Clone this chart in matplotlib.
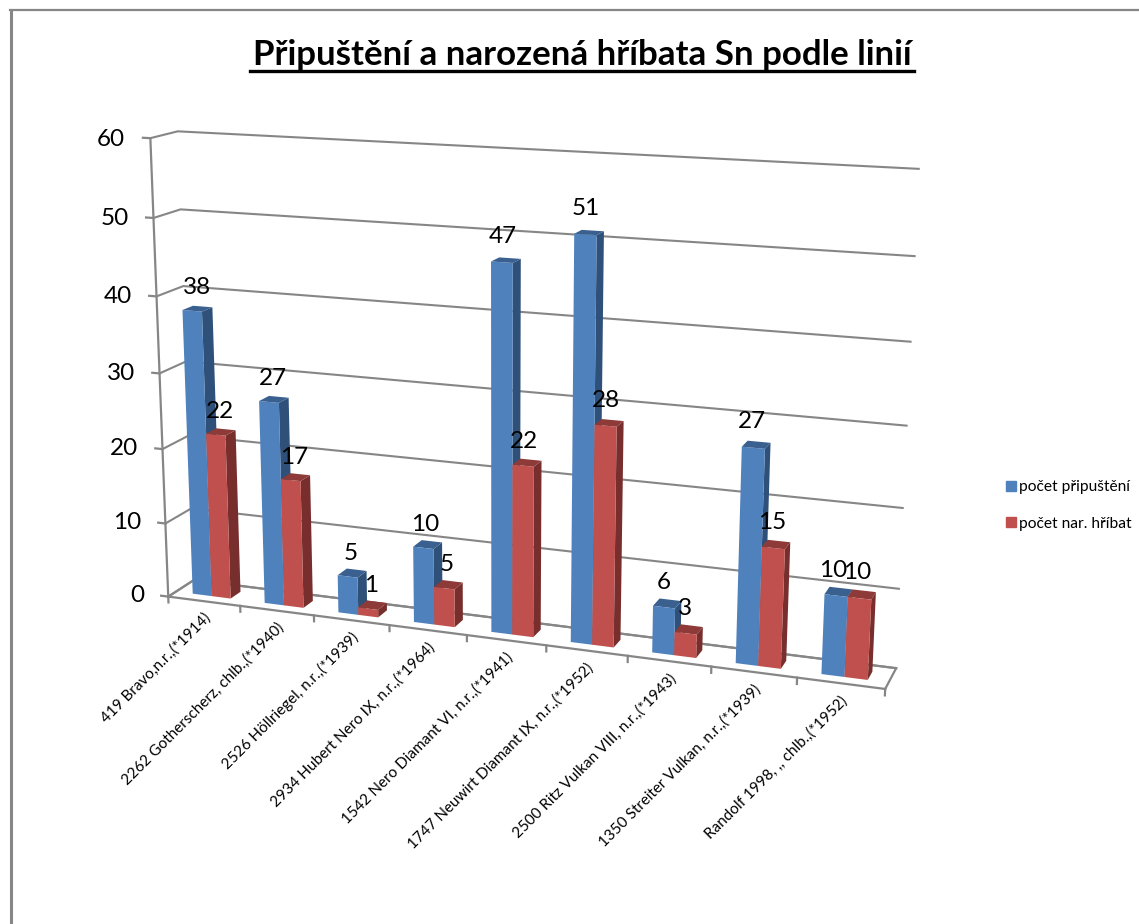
import matplotlib
matplotlib.use('Agg')
import matplotlib.pyplot as plt
import numpy as np
from matplotlib.lines import Line2D
from matplotlib.patches import Patch
from mpl_toolkits.mplot3d import proj3d

plt.rcParams['font.family'] = ['Lato', 'DejaVu Sans']

title = 'Připuštění a narozená hříbata Sn podle linií'
horses = ['419 Bravo,n.r.,(*1914)', '2262 Gotherscherz, chlb.,(*1940)',
          '2526 Höllriegel, n.r.,(*1939)', '2934 Hubert Nero IX, n.r.,(*1964)',
          '1542 Nero Diamant VI, n.r.,(*1941)', '1747 Neuwirt Diamant IX, n.r.,(*1952)',
          '2500 Ritz Vulkan VIII, n.r.,(*1943)', '1350 Streiter Vulkan, n.r.,(*1939)',
          'Randolf 1998, ,, chlb.,(*1952)']
pripusteni = [38, 27, 5, 10, 47, 51, 6, 27, 10]
hribata = [22, 17, 1, 5, 22, 28, 3, 15, 10]
series_names = ['počet připuštění', 'počet nar. hříbat']
z_ticks = [0, 10, 20, 30, 40, 50, 60]

W, H = 1139, 924
GREY = '#868686'
HIDDEN = (0, 0, 0, 0)
# front, top, side colours for each series
BLUE = ('#4F81BD', '#3A6090', '#2F5078')
RED = ('#C0504D', '#8E3A38', '#772E2C')

fig = plt.figure(figsize=(W/100, H/100), dpi=100)

# perspective fitted to the reference
cx, cy, s = 504.49, 513.57, 891.28
ax = fig.add_axes([(cx-s/2)/W, (cy-s/2)/H, s/W, s/H], projection='3d')
ax.patch.set_alpha(0)
ax.set_xlim(0, 9, view_margin=0)
ax.set_ylim(0, 1, view_margin=0)
ax.set_zlim(0, 60, view_margin=0)
ax.view_init(elev=14.2108, azim=-70.228, roll=-0.1147)
ax.set_proj_type('persp', focal_length=0.45613)
ax.set_box_aspect((1, 0.07528, 0.63781))

for axis in (ax.xaxis, ax.yaxis, ax.zaxis):
    axis.set_pane_color((1, 1, 1, 0))
    axis.pane.set_edgecolor('none')
    axis.line.set_color('none')
ax.xaxis._axinfo['grid'].update(linewidth=0)
ax.yaxis._axinfo['grid'].update(linewidth=0)
ax.zaxis._axinfo['grid'].update(color=GREY, linewidth=1.5)
ax.set_xticks([])
ax.set_yticks([])
ax.set_zticks(z_ticks)
ax.set_zticklabels([])
ax.zaxis._axinfo['tick'].update(inward_factor=0, outward_factor=0)

M = ax.get_proj()

def text_at(x, y, z, txt, **kw):
    # Text3D drops rotation, so place plain 2d text at the projected point
    px, py, _ = proj3d.proj_transform(x, y, z, M)
    return ax.text2D(px, py, txt, transform=ax.transData, **kw)

# bars, one call so the faces sort against each other
w = 0.265
start = (1 - 2*w) / 2
n = len(horses)
cat = np.arange(n)
x = np.concatenate([cat + start, cat + start + w])
y = np.full(2*n, 0.3)
z = np.zeros(2*n)
heights = np.array(pripusteni + hribata, float)
face_colors = []
for cols in [BLUE]*n + [RED]*n:
    # -Z, +Z, -Y, +Y, -X, +X
    face_colors += [HIDDEN, cols[1], cols[0], HIDDEN, HIDDEN, cols[2]]
ax.bar3d(x, y, z, w, 0.4, heights, color=face_colors, shade=False, edgecolor='none', linewidth=0, zsort='max')

# floor outline and axis lines
line_kw = dict(color=GREY, lw=1.6, zorder=1)
ax.plot([0, 9], [0, 0], [0, 0], **line_kw)
ax.plot([0, 0], [0, 1], [0, 0], **line_kw)
ax.plot([9, 9], [0, 1], [0, 0], **line_kw)
ax.plot([0, 9], [1, 1], [0, 0], **line_kw)
ax.plot([0, 0], [0, 0], [0, 60], **line_kw)
for c in range(n + 1):
    ax.plot([c, c], [0, 0], [0, -0.8], **line_kw)
for v in z_ticks:
    ax.plot([0, -0.1], [0, 0], [v, v], **line_kw)
    text_at(-0.34, 0, v - 0.3, str(v), ha='right', va='center', fontsize=17.5, color='black')

# data labels
for i in range(n):
    shift = 0.07 - 0.014*i
    text_at(i + start + w/2 + shift, 0.3, pripusteni[i] + 3.1, str(pripusteni[i]),
            ha='center', va='center', fontsize=17.5, zorder=20)
    text_at(i + start + 1.5*w + shift, 0.3, hribata[i] + 3.1, str(hribata[i]),
            ha='center', va='center', fontsize=17.5, zorder=20)

# category labels
for i, name in enumerate(horses):
    text_at(i + 0.56, 0, -1.9, name, rotation=45, rotation_mode='anchor', ha='right', va='center', fontsize=11, zorder=20)

# title with underline
fig.text(582/W, 1 - 55/H, title, ha='center', va='center', fontsize=25.1, fontweight='bold')
fig.add_artist(Line2D([250/W, 914/W], [1 - 71/H, 1 - 71/H], color='black', lw=2.4))

# outer frame (only top and left show)
fig.add_artist(Line2D([10.5/W, 10.5/W], [0, 1 - 10/H], color=GREY, lw=2.2))
fig.add_artist(Line2D([9.5/W, 1], [1 - 10/H, 1 - 10/H], color=GREY, lw=1.6))

handles = [Patch(color=BLUE[0], label=series_names[0]), Patch(color=RED[0], label=series_names[1])]
fig.legend(handles=handles, loc='center left', bbox_to_anchor=(992.3/W, 1 - 505.5/H), frameon=False,
           fontsize=11.2, handlelength=0.6, handleheight=0.6, handletextpad=0.2, labelspacing=1.45)

fig.savefig('out.png', dpi=100)
